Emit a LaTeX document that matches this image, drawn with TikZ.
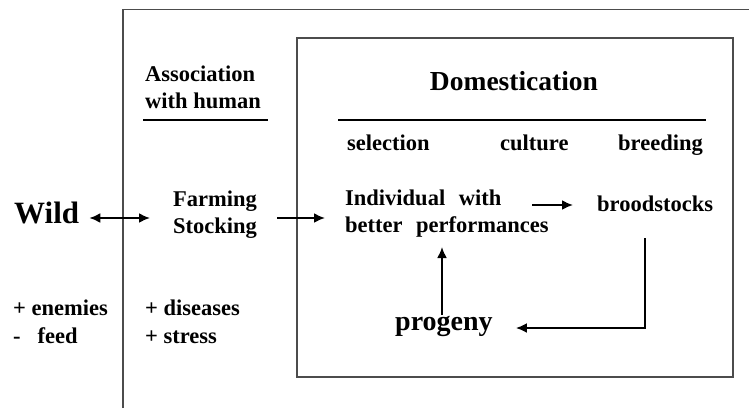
\documentclass[tikz,border=0pt]{standalone}
\usepackage{fontspec}
\setmainfont{Liberation Serif}
\usetikzlibrary{arrows.meta,calc}
\begin{document}
\begin{tikzpicture}[x=1pt,y=-1pt,
  >={Latex[length=11pt,width=10pt]},
  lbl/.style={inner sep=0pt, font=\fontsize{22.5}{26.8}\selectfont\bfseries, align=left},
  boxline/.style={draw=black!70, line width=1.1pt},
  rulel/.style={draw=black, line width=1.2pt},
  arr/.style={->, line width=2pt},
  darr/.style={<->, line width=2pt},
]
\useasboundingbox (0,0) rectangle (749,408);

% frames
\draw[boxline] (123,408) -- (123,9.5) -- (749,9.5);
\draw[boxline] (297,38) rectangle (733,377);

% headings (multi-line nodes: base = last line)
\node[lbl, anchor=base west] (assoc) at (145,108) {Association\\with human};
\node[lbl, font=\fontsize{27.5}{33}\selectfont\bfseries, anchor=base] (dom) at (514,90) {Domestication};
\draw[rulel] (143,120) -- (268,120);
\draw[rulel] (338,120) -- (706,120);

\node[lbl, anchor=base west] (sel) at (347,150) {selection};
\node[lbl, anchor=base west] (cul) at (500,150) {culture};
\node[lbl, anchor=base west] (bre) at (618,150) {breeding};

% main flow
\node[lbl, font=\fontsize{31}{36}\selectfont\bfseries, anchor=base west] (wild) at (14,223) {Wild};
\node[lbl, align=center, anchor=base west] (farm) at (173,233) {Farming\\Stocking};
\node[lbl, anchor=base west] (indiv) at (345,232) {Individual\hspace{0.6em}with\\better\hspace{0.6em}performances};
\node[lbl, anchor=base west] (brood) at (597,211) {broodstocks};
\node[lbl, font=\fontsize{28}{32}\selectfont\bfseries, anchor=base west] (prog) at (395,330) {progeny};

% effects
\node[lbl, font=\fontsize{22.5}{28}\selectfont\bfseries, anchor=base west] (wildfx) at (13,343) {+ enemies\\-\hspace{0.75em}feed};
\node[lbl, font=\fontsize{22.5}{28}\selectfont\bfseries, anchor=base west] (humfx) at (145,343) {+ diseases\\+ stress};

% connectors
\draw[darr] ($(wild.base east)+(10,-5)$) -- ($(farm.base west)+(-23,-15)$);
\draw[arr] ($(farm.base east)+(20,-15)$) -- ($(indiv.base west)+(-20,-14)$);
\draw[arr] ($(brood.base west)+(-65,-6)$) -- ($(brood.base west)+(-24,-6)$);
\draw[arr] ($(brood.base west)+(48,27)$) |- ($(prog.base east)+(23,-2)$);
\draw[arr] ($(prog.base west)+(47,-15)$) -- ($(indiv.base west)+(97,15)$);
\end{tikzpicture}
\end{document}
